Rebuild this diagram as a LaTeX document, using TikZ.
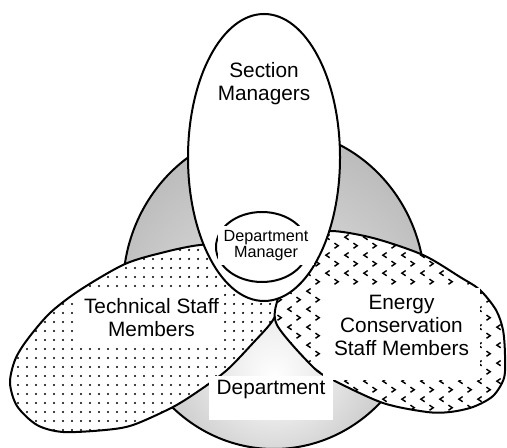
\documentclass[tikz,border=0pt]{standalone}
\usepackage{fontspec}
\setmainfont{Liberation Sans}
\usetikzlibrary{positioning,patterns}

% fill patterns for the two staff groups
\pgfdeclarepatternformonly{sparsedots}{\pgfqpoint{-1pt}{-1pt}}{\pgfqpoint{1pt}{1pt}}{\pgfqpoint{4.5pt}{4.5pt}}{%
  \pgfpathcircle{\pgfpointorigin}{0.62pt}\pgfusepath{fill}}
\pgfdeclarepatternformonly{chevrons}{\pgfpointorigin}{\pgfqpoint{9.5pt}{9pt}}{\pgfqpoint{9.5pt}{9pt}}{%
  \pgfsetlinewidth{0.75pt}
  \pgfpathmoveto{\pgfqpoint{3.5pt}{8.1pt}}\pgfpathlineto{\pgfqpoint{1.5pt}{6.75pt}}\pgfpathlineto{\pgfqpoint{3.5pt}{5.4pt}}
  \pgfpathmoveto{\pgfqpoint{6pt}{3.6pt}}\pgfpathlineto{\pgfqpoint{8pt}{2.25pt}}\pgfpathlineto{\pgfqpoint{6pt}{0.9pt}}
  \pgfusepath{stroke}}
% soft grey for the department disc
\pgfdeclareradialshading{discglow}{\pgfpoint{0bp}{-14bp}}{color(0bp)=(white); color(18bp)=(black!18); color(35bp)=(black!30); color(50bp)=(black!34)}

\tikzset{
    outline/.style={draw=black, line width=1pt},
    boxfill/.style={fill=white, inner sep=0pt},
    bigtext/.style={font=\fontsize{10.4}{11.5}\selectfont, align=center, inner sep=0pt},
    smalltext/.style={font=\fontsize{8.1}{6.7}\selectfont, align=center}
}

\begin{document}
\begin{tikzpicture}[x=0.5pt,y=0.5pt]
    \useasboundingbox (0,0) rectangle (507,448);

    % department
    \shade[shading=discglow] (274,159) ellipse [x radius=151, y radius=160];
    \draw[outline] (274,159) ellipse [x radius=151, y radius=160];

    % technical staff (dotted)
    \draw[outline, preaction={fill=white}, pattern=sparsedots]
        plot[smooth cycle] coordinates {
            (125,184) (165,196) (200,203) (240,204) (270,183) (280,150)
            (273,128) (253,105) (227,78) (200,58) (173,41) (133,23)
            (105,18) (63,16) (37,23) (17,42) (10,65) (15,88)
            (27,108) (50,135) (80,158)};
    % energy conservation staff (chevrons)
    \draw[outline, preaction={fill=white}, pattern=chevrons]
        plot[smooth cycle] coordinates {
            (330,217) (373,210) (423,193) (460,171) (480,158) (496,138)
            (503,118) (505,93) (504,70) (493,52) (473,41) (450,36)
            (427,36) (383,45) (333,68) (313,81) (277,123) (278,150)
            (292,186) (308,208)};

    % section managers and department manager
    \draw[outline, fill=white] (264,290.5) ellipse [x radius=76, y radius=143.5];
    \draw[outline] (262,201) ellipse [x radius=46, y radius=35];

    \node[bigtext] (secmgr) at (264,364.5) {Section\\Managers};
    \node[smalltext, fill=white, inner xsep=3pt, inner ysep=2pt] (deptmgr) at (266,202.5) {Department\\Manager};

    \node[boxfill, minimum width=72.5pt, minimum height=27pt] (techbox) at (151.5,128) {};
    \node[bigtext, below=2.5pt of techbox.north] (tech) {Technical Staff\\Members};

    \node[boxfill, minimum width=78.5pt, minimum height=46pt] (energybox) at (401.5,114) {};
    \node[bigtext, below=3.5pt of energybox.north] (energy) {Energy\\Conservation\\Staff Members};

    \node[boxfill, minimum width=62pt, minimum height=22pt] (deptbox) at (271,50) {};
    \node[bigtext, below=2pt of deptbox.north] (dept) {Department};
\end{tikzpicture}
\end{document}
